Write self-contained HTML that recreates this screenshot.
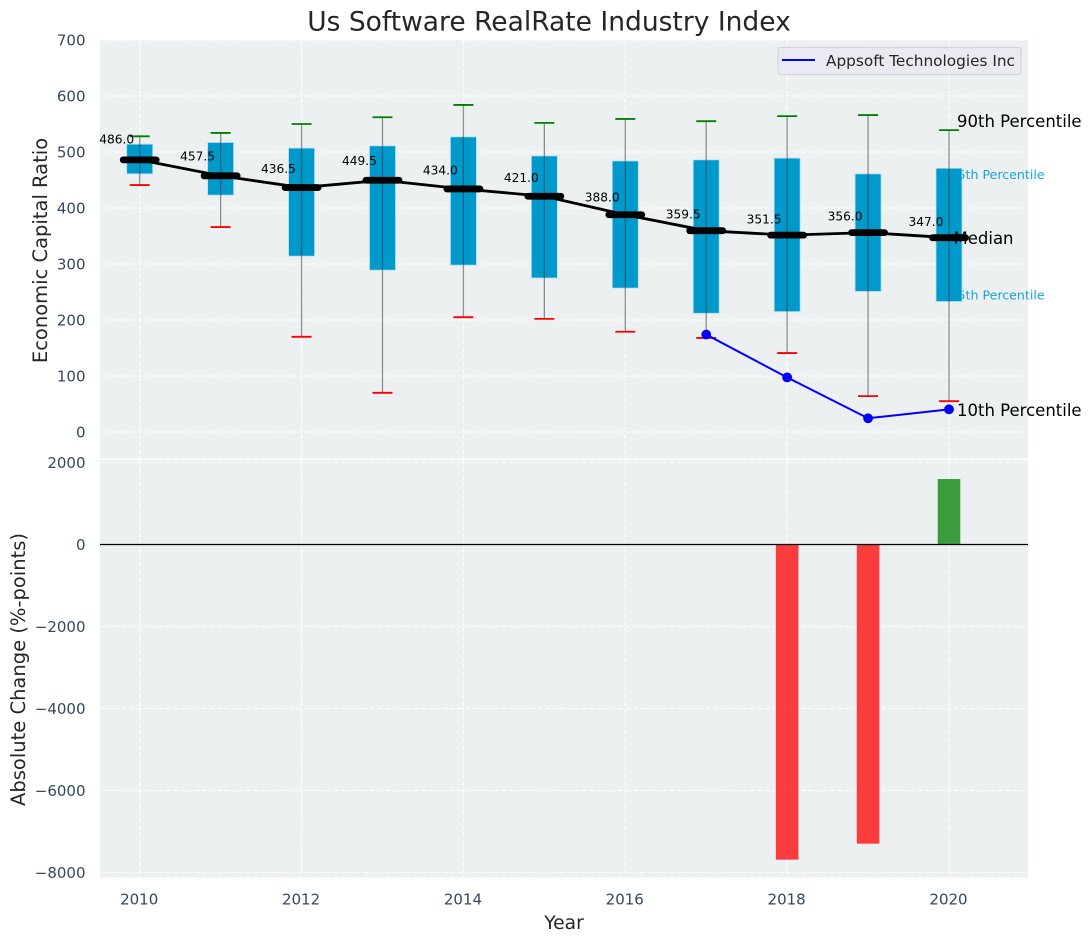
<!DOCTYPE html>
<html lang="en">
<head>
<meta charset="utf-8">
<title>Us Software RealRate Industry Index</title>
<style>
html,body{margin:0;padding:0;background:#fff;}
svg{display:block;font-family:"DejaVu Sans","Liberation Sans",sans-serif;}
</style>
</head>
<body>
<svg id="chart" xmlns="http://www.w3.org/2000/svg" width="1092" height="942" viewBox="0 0 1092 942">
  <rect x="100" y="40" width="928" height="418.5" fill="#ecf0f1"/>
  <rect x="100" y="460" width="928" height="417.5" fill="#ecf0f1"/>
  <g id="grid"></g>
  <g id="pctText"></g>
  <g id="boxes"></g>
  <g id="medians"></g>
  <g id="company"></g>
  <g id="bars"></g>
  <g id="ticks"></g>
  <text x="549" y="30.5" font-size="26.5" fill="#262626" text-anchor="middle">Us Software RealRate Industry Index</text>
  <text x="564" y="929" font-size="18.7" fill="#262626" text-anchor="middle">Year</text>
  <text transform="translate(47,250.5) rotate(-90)" font-size="19.5" fill="#262626" text-anchor="middle">Economic Capital Ratio</text>
  <text transform="translate(25,669.5) rotate(-90)" font-size="19.5" fill="#262626" text-anchor="middle">Absolute Change (%-points)</text>
  <g>
    <rect x="778" y="47.5" width="243" height="27" rx="2.5" fill="#eaeaf2" stroke="#d4d4d8" stroke-width="1.2"/>
    <line x1="782" y1="60" x2="815" y2="60" stroke="#0000ff" stroke-width="2"/>
    <text x="826" y="66" font-size="15.3" fill="#262626">Appsoft Technologies Inc</text>
  </g>
</svg>
<script>
const years = [2010, 2011, 2012, 2013, 2014, 2015, 2016, 2017, 2018, 2019, 2020];
const medianValues = [486, 457.5, 436.5, 449.5, 434, 421, 388, 359.5, 351.5, 356, 347];
const p75Values = [514, 517, 507, 511, 527, 493, 484, 486, 489, 461, 471];
const p25Values = [461, 423, 314, 289, 298, 275, 257, 212, 215, 251, 233];
const p90Values = [528, 534, 550, 562, 584, 552, 559, 555, 564, 566, 539];
const p10Values = [441, 366, 170, 70, 205, 202, 179, 168, 141, 64, 55];
const companyYears = [2017, 2018, 2019, 2020];
const companyValues = [174, 97.5, 24.5, 40.5];
const changeYears = [2018, 2019, 2020];
const changeValues = [-7687, -7297, 1597];
const topTicks = [0, 100, 200, 300, 400, 500, 600, 700];
const bottomTicks = [-8000, -6000, -4000, -2000, 0, 2000];
const xTicks = [2010, 2012, 2014, 2016, 2018, 2020];

const NS = 'http://www.w3.org/2000/svg';
const X = function (year) { return 139.7 + (year - 2010) * 80.93; };
const YT = function (v) { return 432 - v * 0.56; };
const YB = function (v) { return 544.5 - v * 0.041; };

function mk(parent, tag, attrs, text) {
  const el = document.createElementNS(NS, tag);
  for (const k in attrs) el.setAttribute(k, attrs[k]);
  if (text !== undefined) el.textContent = text;
  parent.appendChild(el);
  return el;
}
const gridG = document.getElementById('grid');
const pctG = document.getElementById('pctText');
const boxG = document.getElementById('boxes');
const medG = document.getElementById('medians');
const coG = document.getElementById('company');
const barG = document.getElementById('bars');
const tickG = document.getElementById('ticks');
const gridStyle = { stroke: '#ffffff', 'stroke-width': 1.1, 'stroke-dasharray': '5 2.3' };

topTicks.forEach(function (t) {
  const g = mk(gridG, 'line', Object.assign({ x1: 100, x2: 1028, y1: YT(t), y2: YT(t) }, gridStyle));
  
  
  const l = mk(tickG, 'text', { x: 85.5, y: YT(t) + 5.5, 'font-size': 15, fill: '#34495e', 'text-anchor': 'end' }, String(t));
  
  
});
bottomTicks.forEach(function (t) {
  const g = mk(gridG, 'line', Object.assign({ x1: 100, x2: 1028, y1: YB(t), y2: YB(t) }, gridStyle));
  
  
  const label = t < 0 ? '\u2212' + Math.abs(t) : String(t);
  const l = mk(tickG, 'text', { x: 85.5, y: YB(t) + 5.5, 'font-size': 15, fill: '#34495e', 'text-anchor': 'end' }, label);
  
  
});
xTicks.forEach(function (t) {
  const a = mk(gridG, 'line', Object.assign({ x1: X(t), x2: X(t), y1: 40, y2: 458.5 }, gridStyle));
  
  
  const b = mk(gridG, 'line', Object.assign({ x1: X(t), x2: X(t), y1: 460, y2: 877.5 }, gridStyle));
  
  
  const l = mk(tickG, 'text', { x: X(t) - 0.5, y: 904.5, 'font-size': 15, fill: '#34495e', 'text-anchor': 'middle' }, String(t));
  
  
});

const lastIdx = years.length - 1;
const lastX = X(years[lastIdx]);
const lastCompany = companyValues[companyValues.length - 1];
const t75 = mk(pctG, 'text', { x: lastX + 0.5, y: YT(p75Values[lastIdx]) + 11, 'font-size': 12.6, fill: '#1ba3d3' }, '75th Percentile');


const t25 = mk(pctG, 'text', { x: lastX + 0.5, y: YT(p25Values[lastIdx]) - 2, 'font-size': 12.6, fill: '#1ba3d3' }, '25th Percentile');



years.forEach(function (yr, i) {
  const cx = X(yr);
  const box = mk(boxG, 'rect', {
    x: cx - 13, y: YT(p75Values[i]), width: 26,
    height: YT(p25Values[i]) - YT(p75Values[i]),
    fill: '#0099cc', stroke: '#b5dfee', 'stroke-width': 0.8
  });
  
  
  const w = mk(boxG, 'line', {
    x1: cx, x2: cx, y1: YT(p90Values[i]), y2: YT(p10Values[i]),
    stroke: '#3a3a3a', 'stroke-opacity': 0.55, 'stroke-width': 1.3
  });
  
  
  const hi = mk(boxG, 'line', {
    x1: cx - 10, x2: cx + 10, y1: YT(p90Values[i]), y2: YT(p90Values[i]),
    stroke: '#008000', 'stroke-width': 1.8
  });
  
  
  const lo = mk(boxG, 'line', {
    x1: cx - 10, x2: cx + 10, y1: YT(p10Values[i]), y2: YT(p10Values[i]),
    stroke: '#ff0000', 'stroke-width': 1.8
  });
  
  
});

const medLine = mk(medG, 'polyline', {
  points: years.map(function (yr, i) { return X(yr) + ',' + YT(medianValues[i]); }).join(' '),
  fill: 'none', stroke: '#000000', 'stroke-width': 2.8
});


years.forEach(function (yr, i) {
  const cx = X(yr), cy = YT(medianValues[i]);
  const m = mk(medG, 'line', {
    x1: cx - 16.5, x2: cx + 16.5, y1: cy, y2: cy,
    stroke: '#000000', 'stroke-width': 6.8, 'stroke-linecap': 'round'
  });
  
  
  const t = mk(medG, 'text', { x: cx - 40.5, y: YT(medianValues[i] * 1.06), 'font-size': 12.2, fill: '#000000' }, medianValues[i].toFixed(1));
  
  
});

const coLine = mk(coG, 'polyline', {
  points: companyYears.map(function (yr, i) { return X(yr) + ',' + YT(companyValues[i]); }).join(' '),
  fill: 'none', stroke: '#0000ff', 'stroke-width': 2
});


companyYears.forEach(function (yr, i) {
  const c = mk(coG, 'circle', { cx: X(yr), cy: YT(companyValues[i]), r: 4.9, fill: '#0000ff' });
  
  
});

const t90 = mk(coG, 'text', { x: lastX + 8, y: YT(p90Values[lastIdx]) - 3, 'font-size': 16.5, fill: '#000000' }, '90th Percentile');


const tMed = mk(coG, 'text', { x: lastX + 4.5, y: YT(medianValues[lastIdx]) + 6.5, 'font-size': 16.5, fill: '#000000' }, 'Median');


const t10 = mk(coG, 'text', { x: lastX + 8, y: YT(lastCompany) + 6.5, 'font-size': 16.5, fill: '#000000' }, '10th Percentile');



changeYears.forEach(function (yr, i) {
  const v = changeValues[i];
  const b = mk(barG, 'rect', {
    x: X(yr) - 11.3, width: 22.6,
    y: Math.min(YB(0), YB(v)), height: Math.abs(YB(v) - YB(0)),
    fill: v < 0 ? '#ff0000' : '#008000', 'fill-opacity': 0.75
  });
  
  
});
const zero = mk(barG, 'line', { x1: 100, x2: 1028, y1: YB(0), y2: YB(0), stroke: '#000000', 'stroke-width': 1.2 });


</script>
</body>
</html>
